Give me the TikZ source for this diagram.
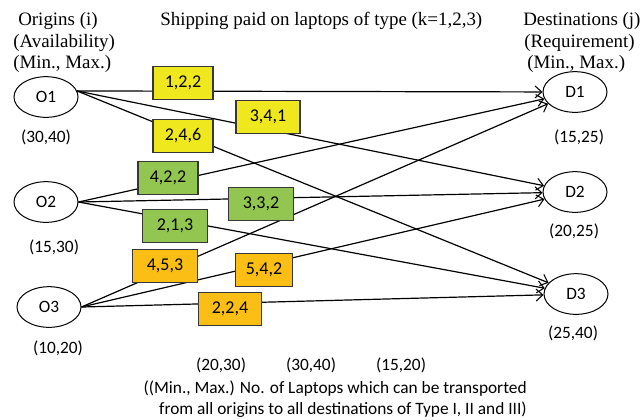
\documentclass[tikz,border=0pt]{standalone}
\usepackage{fontspec}
\setmainfont{Liberation Serif}
\newfontfamily\carl{Carlito}
\usetikzlibrary{shapes.geometric,arrows.meta}
\definecolor{boxyellow}{RGB}{240,232,30}
\definecolor{boxgreen}{RGB}{146,198,80}
\definecolor{boxorange}{RGB}{250,190,20}
\definecolor{boxline}{RGB}{55,55,55}
\tikzset{
  site/.style={draw, ellipse, line width=0.75pt, minimum width=48pt, minimum height=30.5pt, inner sep=0pt, font=\carl\fontsize{13}{15}\selectfont},
  costbox/.style={draw=boxline, line width=0.9pt, minimum height=24.5pt, inner sep=0pt, font=\carl\fontsize{13.5}{15}\selectfont},
  yel/.style={costbox, fill=boxyellow},
  grn/.style={costbox, fill=boxgreen},
  org/.style={costbox, fill=boxorange},
  head/.style={font=\fontsize{14.2}{16}\selectfont, inner sep=0pt, anchor=base west},
  lab/.style={font=\carl\fontsize{13}{15}\selectfont, inner sep=0pt},
  flow/.style={line width=0.9pt, -{Straight Barb[length=5pt,width=9pt,line width=0.8pt]}}
}
\begin{document}
\begin{tikzpicture}[x=0.75pt,y=-0.75pt]
\useasboundingbox (0,0) rectangle (641,419);
% headings
\node[head] (h1) at (18,25) {Origins (i)};
\node[head] (h2) at (13,47) {(Availability)};
\node[head] (h3) at (13,68) {(Min., Max.)};
\node[head] (h4) at (160,25) {Shipping paid on laptops of type (k=1,2,3)};
\node[head] (h5) at (523,25) {Destinations (j)};
\node[head] (h6) at (524,47) {(Requirement)};
\node[head] (h7) at (527,68) {(Min., Max.)};
% sites
\node[site] (O1) at (46,97) {O1};
\node[site] (O2) at (46,202) {O2};
\node[site] (O3) at (49,307) {O3};
\node[site] (D1) at (575,92) {D1};
\node[site] (D2) at (575,192) {D2};
\node[site] (D3) at (576,294) {D3};
% connectors
\draw[flow] (O1.11) -- (D1);
\draw[flow] (O1.11) -- (D2);
\draw[flow] (O1.11) -- (D3);
\draw[flow] (O2.east) -- (D1);
\draw[flow] (O2.east) -- (D2);
\draw[flow] (O2.east) -- (D3);
\draw[flow] (O3.east) -- (D1);
\draw[flow] (O3.east) -- (D2);
\draw[flow] (O3.east) -- (D3);
% cost boxes
\node[yel, minimum width=45pt] (c122) at (183,83) {1,2,2};
\node[yel, minimum width=48pt] (c341) at (268,117) {3,4,1};
\node[yel, minimum width=45pt] (c246) at (183,136) {2,4,6};
\node[grn, minimum width=45pt] (c422) at (168,178) {4,2,2};
\node[grn, minimum width=49pt] (c332) at (261,204) {3,3,2};
\node[grn, minimum width=49pt] (c213) at (175,226) {2,1,3};
\node[org, minimum width=49pt] (c453) at (165,266) {4,5,3};
\node[org, minimum width=43pt] (c542) at (264,270) {5,4,2};
\node[org, minimum width=47pt] (c224) at (230,309) {2,2,4};
% limits
\node[lab] (l1) at (46,137) {(30,40)};
\node[lab] (l2) at (54,247) {(15,30)};
\node[lab] (l3) at (58,348) {(10,20)};
\node[lab] (l4) at (579,137) {(15,25)};
\node[lab] (l5) at (574,231) {(20,25)};
\node[lab] (l6) at (573,333) {(25,40)};
\node[lab] (t1) at (221,365) {(20,30)};
\node[lab] (t2) at (311,365) {(30,40)};
\node[lab] (t3) at (401,365) {(15,20)};
\node[lab, anchor=base east] (n1) at (527,393) {((Min., Max.) No. of Laptops which can be transported};
\node[lab, anchor=base east] (n2) at (527,414) {from all origins to all destinations of Type I, II and III)};
\end{tikzpicture}
\end{document}
